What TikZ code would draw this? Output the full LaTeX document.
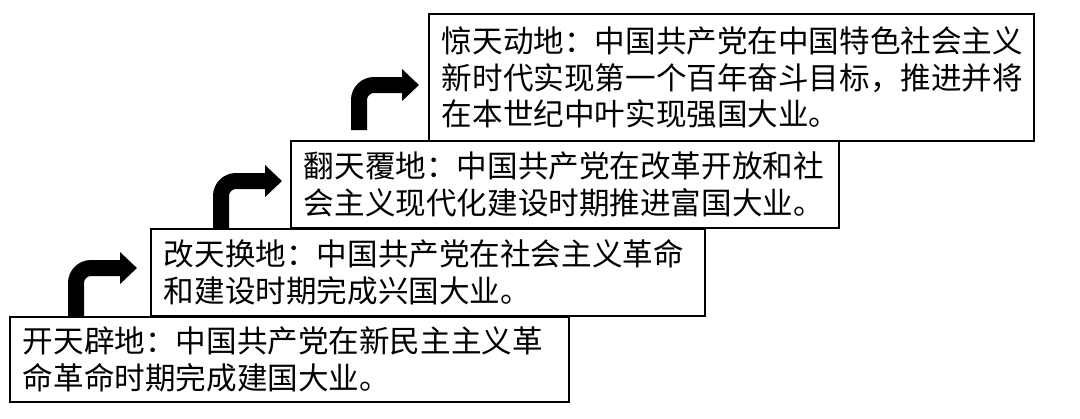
\documentclass[tikz,border=0pt]{standalone}
\usepackage{fontspec}
\usepackage{tikz}
\newfontfamily\cjk{Noto Sans CJK SC}
\usetikzlibrary{arrows.meta}
\usetikzlibrary{positioning}
\tikzset{stage/.style = {draw, line width = 1.1pt, anchor = south west, align = left,
                         inner xsep = 0.26cm, inner ysep = 0,
                         font = \cjk\fontsize{17.4}{20.8}\selectfont}}
\tikzset{upturn/.style = {line width = 0.32cm, rounded corners = 0.3cm,
                          -{Triangle[length = 0.34cm, width = 0.62cm]}}}

\begin{document}
\begin{tikzpicture}
      \useasboundingbox (0, 0) rectangle (21.6, 8.36);

      \node [stage, text width = 10.66cm, minimum height = 1.70cm] (kaitian) at (0.18, 0.30)
            {开天辟地：中国共产党在新民主主义革\\命革命时期完成建国大业。};
      \node [stage, text width = 10.56cm, minimum height = 1.74cm] (gaitian) at (3.00, 2.02)
            {改天换地：中国共产党在社会主义革命\\和建设时期完成兴国大业。};
      \node [stage, text width = 10.44cm, minimum height = 1.74cm] (fantian) at (5.80, 3.78)
            {翻天覆地：中国共产党在改革开放和社\\会主义现代化建设时期推进富国大业。};
      \node [stage, text width = 11.58cm, minimum height = 2.54cm] (jingtian) at (8.56, 5.52)
            {惊天动地：中国共产党在中国特色社会主义\\新时代实现第一个百年奋斗目标，推进并将\\在本世纪中叶实现强国大业。};

      % bent arrows up the stairs
      \draw [upturn] ([xshift = 1.34cm] kaitian.north west) |- ([xshift = -0.26cm, yshift = 0.09cm] gaitian.west);
      \draw [upturn] ([xshift = 1.42cm] gaitian.north west) |- ([xshift = -0.16cm, yshift = 0.07cm] fantian.west);
      \draw [upturn] ([xshift = 1.38cm, yshift = 0.2cm] fantian.north west) |- ([xshift = -0.18cm, yshift = -0.15cm] jingtian.west);
\end{tikzpicture}
\end{document}
